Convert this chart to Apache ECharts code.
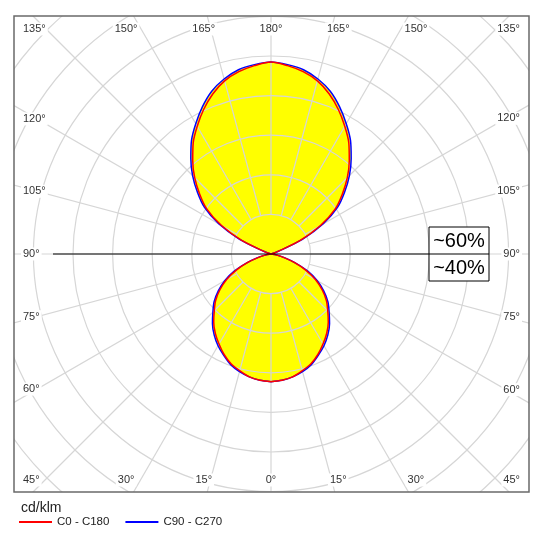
<!DOCTYPE html>
<html>
<head>
<meta charset="utf-8">
<script src="https://cdn.jsdelivr.net/npm/echarts@6/dist/echarts.min.js"></script>
<style>html,body{margin:0;padding:0;background:#fff;}#c{width:543px;height:543px;}</style>
</head>
<body>
<div id="c"></div>
<script>
// gamma angles (degrees from nadir)
const gamma = [0,5,10,15,20,25,30,35,40,45,50,55,60,65,70,75,80,85,90,95,100,105,110,115,120,125,130,135,140,145,150,155,160,165,170,175,180];
// luminous intensity, cd/klm
const c0c180  = [129,128,126,122,118,112,105,98,90,81,73,63,52,39,25,13,5,1,0, 0,0,1,7,33,58,79,94,109,123,137,149,161,172,181,187,191,194];
const c90c270 = [129,128,126,123,119,113,107,100,92,83,75,65,54,41,26,14,5,1,0, 0,0,1,8,35,61,82,97,112,126,140,152,164,175,183,189,192,194];
// angle labels
const topBottomLabels = [0,15,30,150,165,180];
const sideLabels = [45,60,75,90,105,120,135];
const seriesNames = ['C0 - C180','C90 - C270'];
const unitLabel = 'cd/klm';
const shareUp = '~60%', shareDown = '~40%';

const CX = 271, CY = 254, STEP = 39.6, RMAX = 360, RSTEP = 40, ASTEP = 15;
const R = STEP * RMAX / RSTEP;
const FL = 14, FT = 16, FR = 529, FB = 492;
const FONT = 'Liberation Sans, Arial, sans-serif';
const GRID = '#d6d6d6';

function toPolar(vals){
  const pts = [];
  for (let i = 0; i < gamma.length; i++) pts.push([vals[i], gamma[i]]);
  for (let i = gamma.length - 2; i >= 0; i--) pts.push([vals[i], 360 - gamma[i]]);
  return pts;
}
const redPts = toPolar(c0c180);
const bluePts = toPolar(c90c270);

function labelItems(){
  const out = [];
  const mk = (g, side) => {
    const rad = g * Math.PI / 180;
    let x, y, align = 'center';
    if (topBottomLabels.indexOf(g) >= 0) {
      const bottom = g <= 30;
      const dev = bottom ? rad : Math.PI - rad;
      const edgeDy = bottom ? (FB - CY) : (CY - FT);
      x = CX + side * (edgeDy + 13) * Math.tan(dev);
      y = bottom ? FB - 12 : FT + 13;
    } else {
      const phi = Math.abs(Math.PI / 2 - rad);
      const edgeDx = side < 0 ? CX - FL : FR - CX;
      y = CY + (g < 90 ? 1 : -1) * (edgeDx - 23) * Math.tan(phi);
      y = Math.max(FT + 13, Math.min(FB - 12, y));
      x = side < 0 ? FL + 7 : FR - 7;
      align = side < 0 ? 'left' : 'right';
    }
    out.push({type:'text', zlevel:2, z:70, x:x, y:y, style:{text: g + '°', x:0, y:0, align:align, verticalAlign:'middle',
      font: '11px ' + FONT, fill:'#333', backgroundColor:'#fff', padding:[1,2]}});
  };
  topBottomLabels.forEach(g => { if (g === 0 || g === 180) mk(g, 0); else { mk(g, -1); mk(g, 1); } });
  sideLabels.forEach(g => { mk(g, -1); mk(g, 1); });
  return out;
}

const chart = echarts.init(document.getElementById('c'), null, {renderer:'canvas'});
const graphics = [
  {type:'rect', zlevel:2, z:60, shape:{x:0,y:0,width:543,height:FT}, style:{fill:'#fff'}},
  {type:'rect', zlevel:2, z:60, shape:{x:0,y:0,width:FL,height:543}, style:{fill:'#fff'}},
  {type:'rect', zlevel:2, z:60, shape:{x:FR,y:0,width:543-FR,height:543}, style:{fill:'#fff'}},
  {type:'rect', zlevel:2, z:60, shape:{x:0,y:FB,width:543,height:543-FB}, style:{fill:'#fff'}},
  {type:'rect', zlevel:2, z:61, shape:{x:FL,y:FT,width:FR-FL,height:FB-FT}, style:{fill:null, stroke:'#6a6a6a', lineWidth:1.5}},
  {type:'line', zlevel:2, z:65, shape:{x1:53,y1:CY,x2:489,y2:CY}, style:{stroke:'#000', lineWidth:1.2}},
  {type:'rect', zlevel:2, z:65, shape:{x:429,y:227,width:60,height:54}, style:{fill:'#fff', stroke:'#000', lineWidth:1}},
  {type:'line', zlevel:2, z:66, shape:{x1:429,y1:CY,x2:489,y2:CY}, style:{stroke:'#000', lineWidth:1.2}},
  {type:'text', zlevel:2, z:67, x:459, y:241, style:{text:shareUp, x:0,y:0, align:'center', verticalAlign:'middle', font:'20px ' + FONT, fill:'#000'}},
  {type:'text', zlevel:2, z:67, x:459, y:268, style:{text:shareDown, x:0,y:0, align:'center', verticalAlign:'middle', font:'20px ' + FONT, fill:'#000'}},
  {type:'text', zlevel:2, z:67, x:21, y:508, style:{text:unitLabel, x:0,y:0, align:'left', verticalAlign:'middle', font:'14px ' + FONT, fill:'#222'}}
].concat(labelItems());

chart.setOption({
  animation:false,
  polar:{center:[CX,CY], radius:[0,R]},
  angleAxis:{type:'value', min:0, max:360, startAngle:270, clockwise:true, show:false},
  radiusAxis:{type:'value', min:0, max:RMAX, show:false},
  legend:{data:seriesNames, left:19, top:516, padding:0, itemWidth:33, itemHeight:2, icon:'rect', itemGap:16, selectedMode:false, zlevel:2, z:70,
    itemStyle:{borderWidth:0},
    textStyle:{fontFamily:FONT, fontSize:11.5, color:'#222'}},
  graphic:{elements:graphics},
  series:[
    {type:'custom', coordinateSystem:'polar', z:1, silent:true, data:[[0,0]],
      renderItem:function(params, api){
        const pts = bluePts.map(p => api.coord(p));
        return {type:'polygon', shape:{points:pts}, style:{fill:'#ffff00'}};
      }},
    {type:'custom', coordinateSystem:'polar', z:3, silent:true, data:[[0,0]],
      renderItem:function(params, api){
        const c = api.coord([0,0]);
        const children = [];
        for (let v = RSTEP; v <= RMAX; v += RSTEP) {
          const p = api.coord([v, 0]);
          const r = Math.hypot(p[0]-c[0], p[1]-c[1]);
          children.push({type:'circle', shape:{cx:c[0], cy:c[1], r:r}, style:{fill:null, stroke:GRID, lineWidth:1.2}});
        }
        for (let a = 0; a < 360; a += ASTEP) {
          const p0 = api.coord([RSTEP, a]), p1 = api.coord([RMAX, a]);
          children.push({type:'line', shape:{x1:p0[0], y1:p0[1], x2:p1[0], y2:p1[1]}, style:{stroke:GRID, lineWidth:1.2}});
        }
        return {type:'group', children:children};
      }},
    {name:seriesNames[1], type:'line', coordinateSystem:'polar', z:5, data:bluePts, showSymbol:false, symbol:'none', smooth:0.3,
      lineStyle:{color:'#0000ff', width:1.5}, itemStyle:{color:'#0000ff'}},
    {name:seriesNames[0], type:'line', coordinateSystem:'polar', z:6, data:redPts, showSymbol:false, symbol:'none', smooth:0.3,
      lineStyle:{color:'#ff0000', width:1.5}, itemStyle:{color:'#ff0000'}}
  ]
});
</script>
</body>
</html>
